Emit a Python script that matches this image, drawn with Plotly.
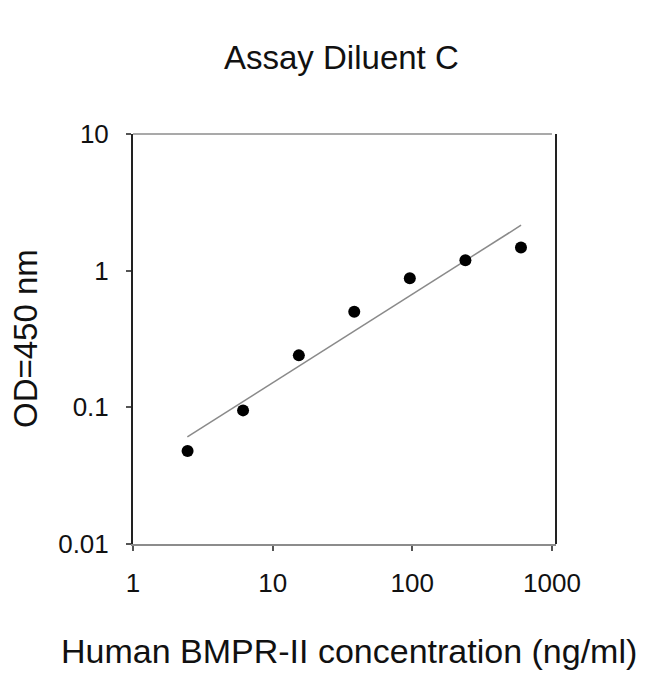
import plotly.graph_objects as go

# BMPR-II standard curve, Assay Diluent C
conc = [2.46, 6.14, 15.4, 38.4, 96, 240, 600]
od = [0.048, 0.095, 0.240, 0.50, 0.88, 1.19, 1.48]

# regression line end points
fit_x = [2.45, 601]
fit_y = [0.0607, 2.15]

x_ticks = [1, 10, 100, 1000]
y_ticks = [0.01, 0.1, 1, 10]

FONT = "Liberation Sans, Arial, sans-serif"

fig = go.Figure()
fig.add_trace(go.Scatter(x=fit_x, y=fit_y, mode="lines",
                         line=dict(color="#8a8a8a", width=1.5),
                         hoverinfo="skip", showlegend=False))
fig.add_trace(go.Scatter(x=conc, y=od, mode="markers",
                         marker=dict(color="black", size=12),
                         showlegend=False))

xr = 3.029
# page body has an 8px margin, so the figure is a bit smaller than the window
fig.update_layout(
    width=642, height=666,
    margin=dict(l=125, r=94, t=126, b=130),
    paper_bgcolor="white", plot_bgcolor="white",
    font=dict(family=FONT, color="#111"),
    xaxis=dict(type="log", range=[0, xr], tickvals=x_ticks,
               ticktext=[str(v) for v in x_ticks],
               showgrid=False, zeroline=False, showline=True,
               linecolor="#8c8c8c", linewidth=1.5,
               ticks="outside", ticklen=5, tickcolor="#555", tickwidth=1.5,
               tickfont=dict(size=26), ticklabelstandoff=10),
    yaxis=dict(type="log", range=[-2, 1], tickvals=y_ticks,
               ticktext=["0.01", "0.1", "1", "10"],
               showgrid=False, zeroline=False, showline=True,
               linecolor="#222", linewidth=2,
               ticks="outside", ticklen=5, tickcolor="#555", tickwidth=1.5,
               tickfont=dict(size=26), ticklabelstandoff=12),
    shapes=[
        dict(type="line", xref="paper", yref="paper", x0=0, x1=3 / xr,
             y0=1, y1=1, line=dict(color="#8c8c8c", width=1.5)),
        dict(type="line", xref="paper", yref="paper", x0=1, x1=1,
             y0=0, y1=1, line=dict(color="#222", width=2)),
    ],
    annotations=[
        dict(text="Assay Diluent C", xref="paper", yref="paper",
             x=0.493, y=1, yshift=77, showarrow=False,
             xanchor="center", yanchor="middle", font=dict(size=33)),
        dict(text="Human BMPR-II concentration (ng/ml)", xref="paper",
             yref="paper", x=0.51, y=0, yshift=-107, showarrow=False,
             xanchor="center", yanchor="middle", font=dict(size=34)),
        dict(text="OD=450 nm", xref="paper", yref="paper", x=0, xshift=-108,
             y=0.5, textangle=-90, showarrow=False,
             xanchor="center", yanchor="middle", font=dict(size=33)),
    ],
)

fig.write_html("out.html")
